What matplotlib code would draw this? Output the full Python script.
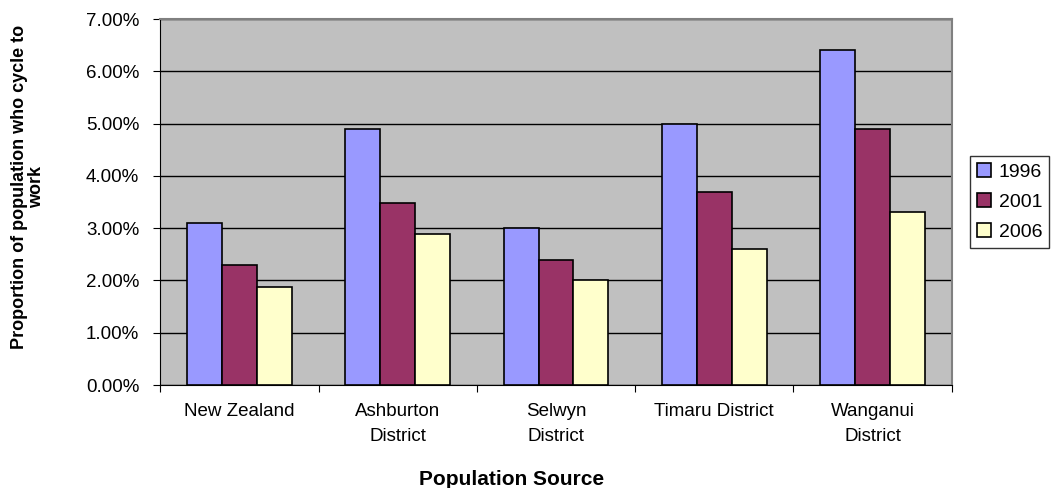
import matplotlib.pyplot as plt
import numpy as np
from matplotlib.ticker import FuncFormatter

plt.rcParams['font.family'] = ['Liberation Sans', 'DejaVu Sans']

# share of people cycling to work, in percent
places = ["New Zealand", "Ashburton\nDistrict", "Selwyn\nDistrict",
          "Timaru District", "Wanganui\nDistrict"]
years = ["1996", "2001", "2006"]
pct_1996 = [3.1, 4.9, 3.0, 5.0, 6.4]
pct_2001 = [2.3, 3.48, 2.4, 3.7, 4.9]
pct_2006 = [1.88, 2.88, 2.0, 2.6, 3.3]
colours = ["#9999FF", "#993366", "#FFFFCC"]

fig = plt.figure(figsize=(10.54, 4.88), dpi=100)
ax = fig.add_axes([0.152, 0.211, 0.751, 0.750])
ax.set_facecolor("#C0C0C0")

x = np.arange(len(places))
w = 0.22
for i, (vals, col, yr) in enumerate(zip([pct_1996, pct_2001, pct_2006], colours, years)):
    ax.bar(x + (i - 1) * w, vals, width=w, color=col, edgecolor="black",
           linewidth=1.2, label=yr, zorder=3)

ax.set_ylim(0, 7)
ax.set_xlim(-0.5, len(places) - 0.5)
ax.set_yticks(np.arange(0, 8, 1))
ax.yaxis.set_major_formatter(FuncFormatter(lambda v, p: f"{v:.2f}%"))
ax.grid(axis="y", color="black", linewidth=1, zorder=0)

# category labels between boundary ticks
ax.set_xticks(np.arange(-0.5, len(places), 1))
ax.set_xticklabels([])
ax.set_xticks(x, minor=True)
ax.set_xticklabels(places, minor=True, fontsize=13.5, linespacing=1.6)
ax.tick_params(axis="x", which="minor", length=0, pad=13)
ax.tick_params(axis="x", which="major", length=5, direction="out")
ax.tick_params(axis="y", length=5, direction="out", labelsize=13.5, pad=10)

for s in ["top", "right"]:
    ax.spines[s].set_color("#808080")
    ax.spines[s].set_linewidth(1.5)
ax.spines["left"].set_color("black")
ax.spines["bottom"].set_color("black")

ax.set_xlabel("Population Source", fontsize=15, fontweight="bold")
ax.xaxis.set_label_coords(0.444, -0.232)
ax.set_ylabel("Proportion of population who cycle to\nwork", fontsize=13,
              fontweight="bold", linespacing=1.0)
ax.yaxis.set_label_coords(-0.145, 0.54)

leg = ax.legend(loc="center left", bbox_to_anchor=(1.023, 0.5), frameon=True,
                fancybox=False, edgecolor="black", fontsize=14,
                handlelength=0.7, handleheight=0.7, handletextpad=0.4,
                borderpad=0.37, labelspacing=0.65, borderaxespad=0)
leg.get_frame().set_linewidth(1)

fig.savefig("out.png", dpi=100)
